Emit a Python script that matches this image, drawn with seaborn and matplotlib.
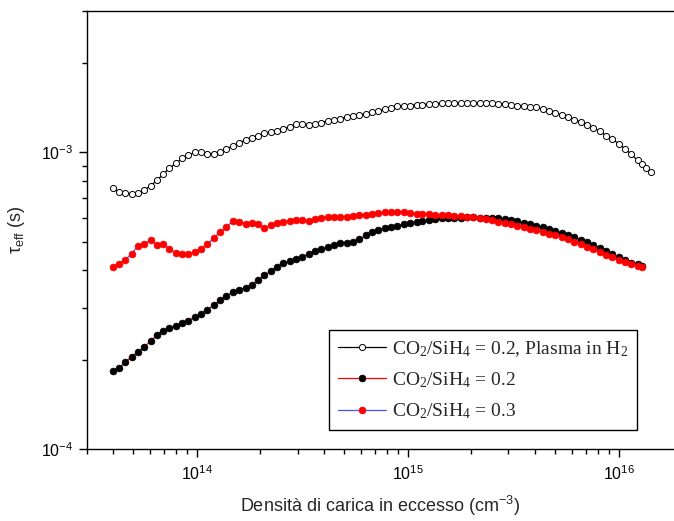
import matplotlib
matplotlib.use("Agg")
import matplotlib.pyplot as plt
import matplotlib.ticker as mticker
import pandas as pd
import seaborn as sns

# excess carrier density (cm^-3) at which the points were read
x_filled = [4.0e13, 4.27e13, 4.57e13, 4.90e13, 5.25e13, 5.62e13, 6.03e13, 6.46e13, 6.92e13, 7.41e13,
            7.94e13, 8.51e13, 9.12e13, 9.77e13, 1.05e14, 1.12e14, 1.20e14, 1.29e14, 1.38e14, 1.48e14,
            1.58e14, 1.70e14, 1.82e14, 1.95e14, 2.09e14, 2.24e14, 2.40e14, 2.57e14, 2.75e14, 2.95e14,
            3.16e14, 3.39e14, 3.63e14, 3.89e14, 4.17e14, 4.47e14, 4.79e14, 5.13e14, 5.50e14, 5.89e14,
            6.31e14, 6.76e14, 7.24e14, 7.76e14, 8.32e14, 8.91e14, 9.55e14, 1.02e15, 1.10e15, 1.17e15,
            1.26e15, 1.35e15, 1.45e15, 1.55e15, 1.66e15, 1.78e15, 1.91e15, 2.04e15, 2.19e15, 2.34e15,
            2.51e15, 2.69e15, 2.88e15, 3.09e15, 3.31e15, 3.55e15, 3.80e15, 4.07e15, 4.37e15, 4.68e15,
            5.01e15, 5.37e15, 5.75e15, 6.17e15, 6.61e15, 7.08e15, 7.59e15, 8.13e15, 8.71e15, 9.33e15,
            1.00e16, 1.07e16, 1.15e16, 1.23e16, 1.29e16]
x_open = x_filled + [1.35e16, 1.43e16]

# tau_eff (s), CO2/SiH4 = 0.2 with H2 plasma (open circles)
tau_h2 = [7.57e-4, 7.35e-4, 7.28e-4, 7.27e-4, 7.30e-4, 7.47e-4, 7.72e-4, 8.05e-4, 8.45e-4, 8.85e-4,
          9.20e-4, 9.55e-4, 9.80e-4, 1.00e-3, 1.00e-3, 9.92e-4, 9.92e-4, 1.00e-3, 1.03e-3, 1.05e-3,
          1.08e-3, 1.10e-3, 1.12e-3, 1.14e-3, 1.16e-3, 1.17e-3, 1.18e-3, 1.20e-3, 1.22e-3, 1.25e-3,
          1.25e-3, 1.24e-3, 1.25e-3, 1.26e-3, 1.28e-3, 1.29e-3, 1.30e-3, 1.32e-3, 1.33e-3, 1.34e-3,
          1.35e-3, 1.37e-3, 1.38e-3, 1.40e-3, 1.41e-3, 1.43e-3, 1.44e-3, 1.44e-3, 1.45e-3, 1.45e-3,
          1.46e-3, 1.46e-3, 1.465e-3, 1.47e-3, 1.47e-3, 1.47e-3, 1.47e-3, 1.47e-3, 1.47e-3, 1.465e-3,
          1.465e-3, 1.46e-3, 1.46e-3, 1.45e-3, 1.44e-3, 1.435e-3, 1.425e-3, 1.42e-3, 1.40e-3, 1.38e-3,
          1.36e-3, 1.34e-3, 1.32e-3, 1.29e-3, 1.27e-3, 1.24e-3, 1.21e-3, 1.18e-3, 1.14e-3, 1.11e-3,
          1.07e-3, 1.03e-3, 9.85e-4, 9.40e-4, 9.15e-4, 8.85e-4, 8.57e-4]

# tau_eff (s), CO2/SiH4 = 0.2 (black dots)
tau_02 = [1.83e-4, 1.88e-4, 1.96e-4, 2.05e-4, 2.12e-4, 2.21e-4, 2.31e-4, 2.43e-4, 2.50e-4, 2.55e-4,
          2.60e-4, 2.66e-4, 2.71e-4, 2.78e-4, 2.86e-4, 2.95e-4, 3.06e-4, 3.17e-4, 3.28e-4, 3.38e-4,
          3.45e-4, 3.50e-4, 3.58e-4, 3.72e-4, 3.85e-4, 3.98e-4, 4.12e-4, 4.23e-4, 4.30e-4, 4.38e-4,
          4.45e-4, 4.55e-4, 4.64e-4, 4.72e-4, 4.80e-4, 4.88e-4, 4.94e-4, 4.96e-4, 4.98e-4, 5.10e-4,
          5.25e-4, 5.38e-4, 5.48e-4, 5.55e-4, 5.60e-4, 5.66e-4, 5.72e-4, 5.78e-4, 5.83e-4, 5.88e-4,
          5.92e-4, 5.96e-4, 5.99e-4, 6.01e-4, 6.02e-4, 6.03e-4, 6.04e-4, 6.04e-4, 6.03e-4, 6.02e-4,
          6.01e-4, 5.99e-4, 5.96e-4, 5.92e-4, 5.86e-4, 5.79e-4, 5.72e-4, 5.66e-4, 5.59e-4, 5.51e-4,
          5.43e-4, 5.35e-4, 5.27e-4, 5.18e-4, 5.08e-4, 4.98e-4, 4.87e-4, 4.76e-4, 4.64e-4, 4.53e-4,
          4.43e-4, 4.33e-4, 4.25e-4, 4.19e-4, 4.14e-4]

# tau_eff (s), CO2/SiH4 = 0.3 (red dots)
tau_03 = [4.10e-4, 4.22e-4, 4.35e-4, 4.55e-4, 4.85e-4, 4.90e-4, 5.08e-4, 4.86e-4, 4.90e-4, 4.72e-4,
          4.58e-4, 4.56e-4, 4.54e-4, 4.62e-4, 4.74e-4, 4.90e-4, 5.15e-4, 5.40e-4, 5.62e-4, 5.86e-4,
          5.84e-4, 5.74e-4, 5.80e-4, 5.72e-4, 5.56e-4, 5.68e-4, 5.78e-4, 5.82e-4, 5.86e-4, 5.90e-4,
          5.91e-4, 5.86e-4, 5.95e-4, 6.03e-4, 6.08e-4, 6.06e-4, 6.08e-4, 6.08e-4, 6.12e-4, 6.14e-4,
          6.16e-4, 6.20e-4, 6.24e-4, 6.28e-4, 6.30e-4, 6.32e-4, 6.28e-4, 6.24e-4, 6.22e-4, 6.20e-4,
          6.18e-4, 6.16e-4, 6.15e-4, 6.13e-4, 6.12e-4, 6.10e-4, 6.08e-4, 6.06e-4, 6.02e-4, 5.97e-4,
          5.91e-4, 5.85e-4, 5.80e-4, 5.73e-4, 5.66e-4, 5.60e-4, 5.54e-4, 5.48e-4, 5.40e-4, 5.32e-4,
          5.25e-4, 5.17e-4, 5.09e-4, 5.00e-4, 4.91e-4, 4.81e-4, 4.71e-4, 4.61e-4, 4.52e-4, 4.43e-4,
          4.35e-4, 4.28e-4, 4.21e-4, 4.14e-4, 4.10e-4]

labels = [r"CO$_2$/SiH$_4$ = 0.2, Plasma in H$_2$",
          r"CO$_2$/SiH$_4$ = 0.2",
          r"CO$_2$/SiH$_4$ = 0.3"]

sns.set_theme(style="ticks")
plt.rcParams["font.family"] = ["Liberation Sans", "DejaVu Sans"]
plt.rcParams["mathtext.default"] = "regular"

fig = plt.figure(figsize=(6.74, 5.21), dpi=100)
ax = fig.add_axes([0.1286, 0.1382, 0.8714, 0.8407])

df_h2 = pd.DataFrame({"x": x_open, "tau": tau_h2})
df_02 = pd.DataFrame({"x": x_filled, "tau": tau_02})
df_03 = pd.DataFrame({"x": x_filled, "tau": tau_03})

sns.lineplot(data=df_h2, x="x", y="tau", ax=ax, estimator=None, sort=False,
             color="black", linewidth=0.9, marker="o", markersize=4.4,
             markerfacecolor="white", markeredgecolor="black", markeredgewidth=0.7,
             label=labels[0])
sns.lineplot(data=df_02, x="x", y="tau", ax=ax, estimator=None, sort=False,
             color="red", linewidth=0.9, marker="o", markersize=4.9,
             markerfacecolor="black", markeredgecolor="black", markeredgewidth=0.5,
             label=labels[1])
sns.lineplot(data=df_03, x="x", y="tau", ax=ax, estimator=None, sort=False,
             color="#4d4dff", linewidth=0.9, marker="o", markersize=4.9,
             markerfacecolor="red", markeredgecolor="red", markeredgewidth=0.5,
             label=labels[2])

ax.set_xscale("log")
ax.set_yscale("log")
ax.set_xlim(3.0e13, 1.83e16)
ax.set_ylim(1e-4, 3e-3)

ax.spines["right"].set_visible(False)
for s in ["left", "bottom", "top"]:
    ax.spines[s].set_linewidth(1.0)
    ax.spines[s].set_color("black")

ax.yaxis.set_minor_formatter(mticker.NullFormatter())
ax.xaxis.set_minor_formatter(mticker.NullFormatter())
ax.tick_params(which="major", direction="out", length=6, width=1.0, colors="black",
               labelsize=11.5, top=False, right=False)
ax.tick_params(which="minor", direction="out", length=3.5, width=1.0, colors="black",
               top=False, right=False)
ax.tick_params(axis="x", which="major", pad=5)

ax.set_xlabel(r"Densità di carica in eccesso (cm$^{-3}$)", fontsize=13, labelpad=8)
ax.set_ylabel(r"τ$_{eff}$ (s)", fontsize=13, labelpad=10)

leg = ax.legend(loc="lower right", bbox_to_anchor=(0.937, 0.0434), borderaxespad=0,
                frameon=True, fancybox=False, edgecolor="black", framealpha=1,
                prop={"family": "Liberation Serif", "size": 14}, handlelength=2.5,
                handletextpad=0.3, labelspacing=0.6, borderpad=0.45)
leg.get_frame().set_linewidth(1.0)

fig.savefig("out.png", dpi=100)
